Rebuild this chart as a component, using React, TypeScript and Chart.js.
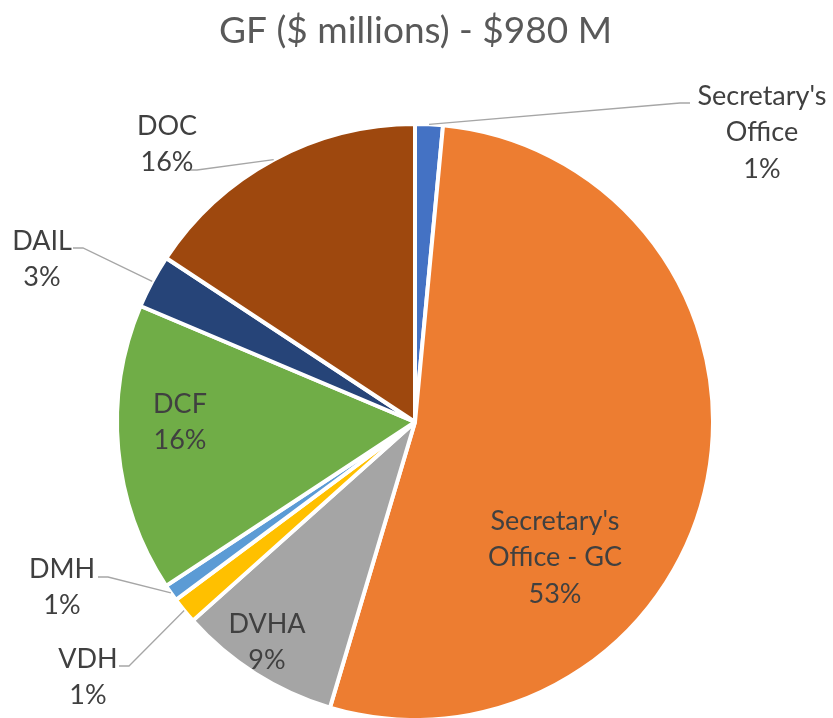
import React, { useEffect, useRef } from "react";
import { Chart, registerables } from "chart.js";

Chart.register(...registerables);

const TITLE = "GF ($ millions) - $980 M";
const categories = ["Secretary's Office", "Secretary's Office - GC", "DVHA", "VDH", "DMH", "DCF", "DAIL", "DOC"];
const values = [14.7, 520, 86, 14, 9, 153, 28.5, 154];
const colors = ["#4472C4", "#ED7D31", "#A5A5A5", "#FFC000", "#5B9BD5", "#70AD47", "#264478", "#9E480E"];
// label text lines per slice
const labelLines = [
  ["Secretary's", "Office", "1%"],
  ["Secretary's", "Office - GC", "53%"],
  ["DVHA", "9%"],
  ["VDH", "1%"],
  ["DMH", "1%"],
  ["DCF", "16%"],
  ["DAIL", "3%"],
  ["DOC", "16%"],
];
// layout of labels: center of first line relative to pie center, and leader elbow (or null for inside labels)
const labelLayout: { dx: number; dy: number; elbow: [number, number] | null; dir: number }[] = [
  { dx: 347, dy: -327, elbow: [265, -319], dir: 1 },
  { dx: 140, dy: 98, elbow: null, dir: 0 },
  { dx: -148, dy: 201, elbow: null, dir: 0 },
  { dx: -327, dy: 236, elbow: [-286, 244], dir: -1 },
  { dx: -353, dy: 146, elbow: [-307, 155], dir: -1 },
  { dx: -235, dy: -19, elbow: null, dir: 0 },
  { dx: -373, dy: -182, elbow: [-332, -174], dir: -1 },
  { dx: -248, dy: -297, elbow: [-218, -252], dir: -1 },
];

const LINE_H = 36.5;
const FONT = "Lato, 'Open Sans', sans-serif";

const labelPlugin = {
  id: "pieLabels",
  afterDraw(chart: any) {
    const ctx = chart.ctx;
    const meta = chart.getDatasetMeta(0);
    ctx.save();
    // title
    ctx.fillStyle = "#595959";
    ctx.font = `37px ${FONT}`;
    ctx.textAlign = "center";
    ctx.textBaseline = "alphabetic";
    ctx.fillText(TITLE, chart.width / 2 - 1, 43);

    meta.data.forEach((arc: any, i: number) => {
      const p = arc.getProps(["x", "y", "startAngle", "endAngle", "outerRadius"], true);
      const cx = p.x, cy = p.y;
      const mid = (p.startAngle + p.endAngle) / 2;
      const lay = labelLayout[i];
      if (lay.elbow) {
        const sx = cx + Math.cos(mid) * p.outerRadius;
        const sy = cy + Math.sin(mid) * p.outerRadius;
        const ex = cx + lay.elbow[0];
        const ey = cy + lay.elbow[1];
        ctx.strokeStyle = "#A6A6A6";
        ctx.lineWidth = 1.3;
        ctx.beginPath();
        ctx.moveTo(sx, sy);
        ctx.lineTo(ex, ey);
        ctx.lineTo(ex + lay.dir * 10, ey);
        ctx.stroke();
      }
      ctx.fillStyle = "#404040";
      ctx.font = `27px ${FONT}`;
      ctx.textAlign = "center";
      ctx.textBaseline = "alphabetic";
      labelLines[i].forEach((t, k) => {
        ctx.fillText(t, cx + lay.dx, cy + lay.dy + k * LINE_H + 9.5);
      });
    });
    ctx.restore();
  },
};

export default function App() {
  const ref = useRef<HTMLCanvasElement | null>(null);
  useEffect(() => {
    if (!ref.current) return;
    const chart = new Chart(ref.current, {
      type: "pie",
      data: {
        labels: categories,
        datasets: [
          {
            data: values,
            backgroundColor: colors,
            borderColor: "#FFFFFF",
            borderWidth: 4,
          },
        ],
      },
      options: {
        responsive: false,
        animation: false,
        radius: 298,
        layout: { padding: { left: 100, right: 103, top: 126, bottom: 0 } },
        plugins: {
          legend: { display: false },
          title: { display: false },
          tooltip: { enabled: false },
        },
      } as any,
      plugins: [labelPlugin],
    });
    return () => chart.destroy();
  }, []);
  return (
    <div style={{ position: "fixed", left: 0, top: 0, width: 833, height: 718, background: "#fff" }}>
      <canvas ref={ref} width={833} height={718} />
    </div>
  );
}
